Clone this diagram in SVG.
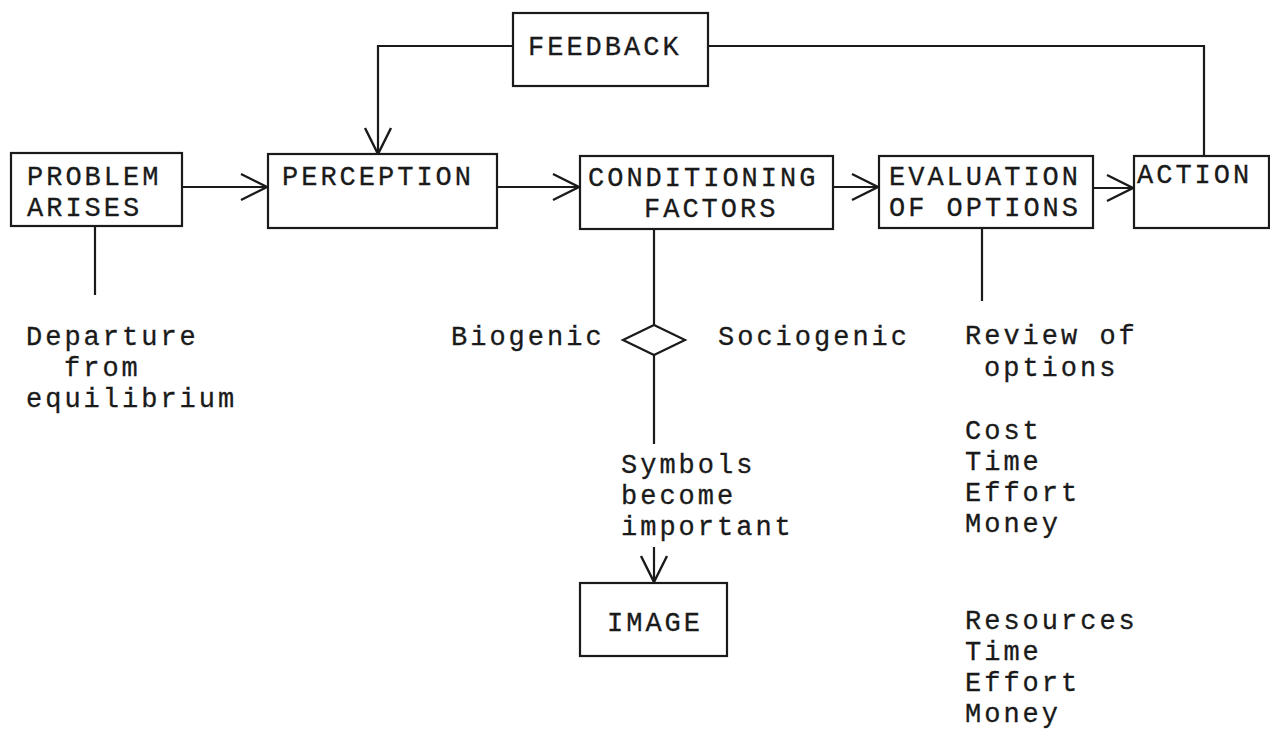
<svg xmlns="http://www.w3.org/2000/svg" width="1270" height="730" viewBox="0 0 1270 730">
  <defs>
    <style>
      .box { fill: #ffffff; stroke: #1a1a1a; stroke-width: 2.2; }
      .line { fill: none; stroke: #1a1a1a; stroke-width: 2.2; }
      .txt { font-family: "Liberation Mono", "Courier New", monospace; font-size: 27px; letter-spacing: 3px; fill: #1a1a1a; stroke: #1a1a1a; stroke-width: 0.3; }
    </style>
    <marker id="open-arrow" markerUnits="userSpaceOnUse" markerWidth="34" markerHeight="34" viewBox="-30 -17 34 34" refX="0" refY="0" orient="auto">
      <path d="M-26,-13 L0,0 L-26,13" fill="none" stroke="#1a1a1a" stroke-width="2.4"/>
    </marker>
  </defs>
  <rect width="1270" height="730" fill="#ffffff"/>

  <!-- connectors -->
  <g id="connectors">
    <path class="line" d="M182,187 H267" marker-end="url(#open-arrow)"/>
    <path class="line" d="M497,187 H579" marker-end="url(#open-arrow)"/>
    <path class="line" d="M833,187 H878" marker-end="url(#open-arrow)"/>
    <path class="line" d="M1093,188 H1133" marker-end="url(#open-arrow)"/>
    <path class="line" d="M1204,156 V46 H708"/>
    <path class="line" d="M513,46 H378 V154" marker-end="url(#open-arrow)"/>
    <path class="line" d="M95,226 V295"/>
    <path class="line" d="M654,229 V325"/>
    <path class="line" d="M654,355 V444"/>
    <path class="line" d="M654,547 V582" marker-end="url(#open-arrow)"/>
    <path class="line" d="M982,228 V301"/>
  </g>

  <g id="feedback">
    <rect class="box" x="513" y="13" width="195" height="73"/>
    <text class="txt" x="528" y="55">FEEDBACK</text>
  </g>

  <g id="problem-arises">
    <rect class="box" x="11" y="153" width="171" height="73"/>
    <text class="txt" x="27" y="185">PROBLEM</text>
    <text class="txt" x="27" y="216">ARISES</text>
  </g>

  <g id="perception">
    <rect class="box" x="268" y="154" width="229" height="74"/>
    <text class="txt" x="282" y="185">PERCEPTION</text>
  </g>

  <g id="conditioning-factors">
    <rect class="box" x="580" y="156" width="253" height="73"/>
    <text class="txt" x="588" y="186">CONDITIONING</text>
    <text class="txt" x="644" y="217">FACTORS</text>
  </g>

  <g id="evaluation-of-options">
    <rect class="box" x="879" y="156" width="214" height="72"/>
    <text class="txt" x="889" y="185">EVALUATION</text>
    <text class="txt" x="889" y="216">OF OPTIONS</text>
  </g>

  <g id="action">
    <rect class="box" x="1134" y="156" width="135" height="72"/>
    <text class="txt" x="1137" y="183">ACTION</text>
  </g>

  <g id="departure">
    <text class="txt" x="26" y="345">Departure</text>
    <text class="txt" x="64" y="376">from</text>
    <text class="txt" x="26" y="407">equilibrium</text>
  </g>

  <g id="biogenic-sociogenic">
    <path class="line" d="M654,325 L685,340 L654,355 L623,340 Z"/>
    <text class="txt" x="451" y="345">Biogenic</text>
    <text class="txt" x="718" y="345">Sociogenic</text>
  </g>

  <g id="symbols">
    <text class="txt" x="621" y="473">Symbols</text>
    <text class="txt" x="621" y="504">become</text>
    <text class="txt" x="621" y="535">important</text>
  </g>

  <g id="image">
    <rect class="box" x="580" y="583" width="147" height="73"/>
    <text class="txt" x="607" y="631">IMAGE</text>
  </g>

  <g id="review-of-options">
    <text class="txt" x="965" y="344">Review of</text>
    <text class="txt" x="984" y="376">options</text>
    <text class="txt" x="965" y="439">Cost</text>
    <text class="txt" x="965" y="470">Time</text>
    <text class="txt" x="965" y="501">Effort</text>
    <text class="txt" x="965" y="532">Money</text>
    <text class="txt" x="965" y="629">Resources</text>
    <text class="txt" x="965" y="660">Time</text>
    <text class="txt" x="965" y="691">Effort</text>
    <text class="txt" x="965" y="722">Money</text>
  </g>
</svg>
